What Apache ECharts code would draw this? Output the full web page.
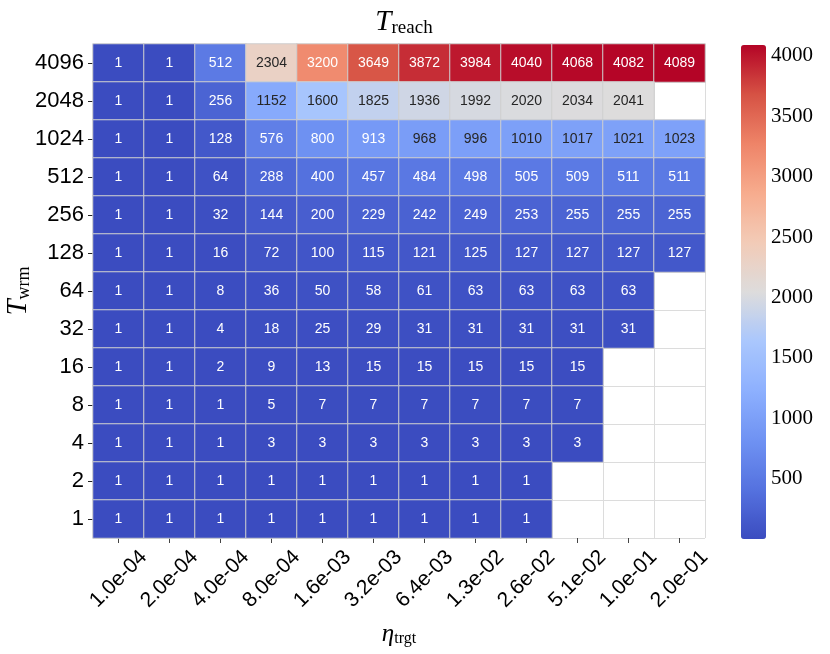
<!DOCTYPE html>
<html>
<head>
    <meta charset="utf-8">
    <script src="https://cdn.jsdelivr.net/npm/echarts@6/dist/echarts.min.js"></script>
</head>
<body style="margin:0">
<div style="width: 830px;height: 654px;" id="chart"></div>
<script>

let chart = echarts.init(document.getElementById('chart'));

// eta_trgt, left to right
let etaLabels = ['1.0e-04', '2.0e-04', '4.0e-04', '8.0e-04', '1.6e-03', '3.2e-03',
    '6.4e-03', '1.3e-02', '2.6e-02', '5.1e-02', '1.0e-01', '2.0e-01'];

// T_wrm, bottom to top
let wrmLabels = ['1', '2', '4', '8', '16', '32', '64', '128', '256', '512', '1024', '2048', '4096'];

// T_reach, one row per T_wrm, listed top (4096) to bottom (1); null = no cell
let reachRows = [
    [1, 1, 512, 2304, 3200, 3649, 3872, 3984, 4040, 4068, 4082, 4089],
    [1, 1, 256, 1152, 1600, 1825, 1936, 1992, 2020, 2034, 2041, null],
    [1, 1, 128, 576, 800, 913, 968, 996, 1010, 1017, 1021, 1023],
    [1, 1, 64, 288, 400, 457, 484, 498, 505, 509, 511, 511],
    [1, 1, 32, 144, 200, 229, 242, 249, 253, 255, 255, 255],
    [1, 1, 16, 72, 100, 115, 121, 125, 127, 127, 127, 127],
    [1, 1, 8, 36, 50, 58, 61, 63, 63, 63, 63, null],
    [1, 1, 4, 18, 25, 29, 31, 31, 31, 31, 31, null],
    [1, 1, 2, 9, 13, 15, 15, 15, 15, 15, null, null],
    [1, 1, 1, 5, 7, 7, 7, 7, 7, 7, null, null],
    [1, 1, 1, 3, 3, 3, 3, 3, 3, 3, null, null],
    [1, 1, 1, 1, 1, 1, 1, 1, 1, null, null, null],
    [1, 1, 1, 1, 1, 1, 1, 1, 1, null, null, null]
];

let colorbarTicks = [500, 1000, 1500, 2000, 2500, 3000, 3500, 4000];

let coolwarm = ['#3b4cc0', '#5572df', '#6f92f3', '#8db0fe', '#aac7fd', '#dddcdc',
    '#f2cbb7', '#f7ac8e', '#ee8468', '#d65244', '#b40426'];

let vmin = 1, vmax = 4089;

let data = [];
reachRows.forEach((row, r) => {
    let yi = wrmLabels.length - 1 - r;
    row.forEach((v, xi) => {
        if (v === null) return;
        // light cells in the middle of the map get dark annotations
        let dark = v > 940 && v < 2900;
        data.push({
            value: [xi, yi, v],
            label: {color: dark ? '#262626' : '#ffffff'}
        });
    });
});

let serif = 'Liberation Serif';
let sans = 'Liberation Sans';

let option = {
    animation: false,
    backgroundColor: '#ffffff',
    title: {
        text: '{t|T}{s|reach}',
        left: 399,
        top: 2,
        textAlign: 'center',
        textStyle: {
            fontWeight: 'normal',
            rich: {
                t: {fontFamily: serif, fontStyle: 'italic', fontWeight: 'normal', fontSize: 29, color: '#000'},
                s: {fontFamily: serif, fontWeight: 'normal', fontSize: 19, color: '#000', padding: [12, 0, 0, 0]}
            }
        }
    },
    grid: [
        {left: 93, right: 125, top: 44, bottom: 116, outerBoundsMode: 'none'},
        {left: 741, top: 45, width: 25, height: 494, outerBoundsMode: 'none'}
    ],
    xAxis: [
        {
            type: 'category',
            data: etaLabels,
            gridIndex: 0,
            name: '{n|η}{s|trgt}',
            nameLocation: 'middle',
            nameGap: 83,
            nameMoveOverlap: false,
            nameTextStyle: {
                rich: {
                    n: {fontFamily: serif, fontStyle: 'italic', fontSize: 25, color: '#000'},
                    s: {fontFamily: serif, fontSize: 16, color: '#000', padding: [10, 0, 0, 0]}
                }
            },
            axisLine: {show: false},
            axisTick: {show: true, alignWithLabel: true, length: 5, lineStyle: {color: '#444'}},
            axisLabel: {
                rotate: 45,
                align: 'center',
                verticalAlign: 'middle',
                margin: 41,
                fontFamily: sans,
                fontSize: 21,
                color: '#000'
            },
            splitLine: {show: true, lineStyle: {color: '#dcdcdc', width: 1}}
        },
        {
            type: 'value',
            gridIndex: 1,
            show: false
        }
    ],
    yAxis: [
        {
            type: 'category',
            data: wrmLabels,
            gridIndex: 0,
            name: '{n|T}{s|wrm}',
            nameLocation: 'middle',
            nameGap: 60,
            nameMoveOverlap: false,
            nameRotate: 90,
            nameTextStyle: {
                rich: {
                    n: {fontFamily: serif, fontStyle: 'italic', fontSize: 29, color: '#000'},
                    s: {fontFamily: serif, fontSize: 18, color: '#000', padding: [12, 0, 0, 0]}
                }
            },
            axisLine: {show: false},
            axisTick: {show: true, alignWithLabel: true, length: 5, lineStyle: {color: '#222'}},
            axisLabel: {margin: 9, fontFamily: sans, fontSize: 22, color: '#000'},
            splitLine: {show: true, lineStyle: {color: '#dcdcdc', width: 1}}
        },
        {
            type: 'value',
            gridIndex: 1,
            position: 'right',
            min: vmin,
            max: vmax,
            axisLine: {show: false},
            axisTick: {show: true, length: 4, customValues: colorbarTicks, lineStyle: {color: '#222'}},
            axisLabel: {
                show: true,
                customValues: colorbarTicks,
                formatter: v => String(v),
                margin: 5,
                fontFamily: serif,
                fontSize: 21,
                color: '#000'
            },
            splitLine: {show: false}
        }
    ],
    visualMap: {
        type: 'continuous',
        min: vmin,
        max: vmax,
        seriesIndex: 0,
        calculable: false,
        left: 741,
        top: 45,
        padding: 0,
        itemWidth: 25,
        itemHeight: 494,
        text: null,
        inRange: {color: coolwarm}
    },
    series: [{
        type: 'heatmap',
        xAxisIndex: 0,
        yAxisIndex: 0,
        data: data,
        itemStyle: {borderColor: '#cfcfcf', borderWidth: 1},
        label: {
            show: true,
            fontFamily: 'Liberation Sans Narrow, Liberation Sans',
            fontSize: 14
        },
        emphasis: {disabled: true}
    }]
};

chart.setOption(option);

</script>
</body>
</html>
